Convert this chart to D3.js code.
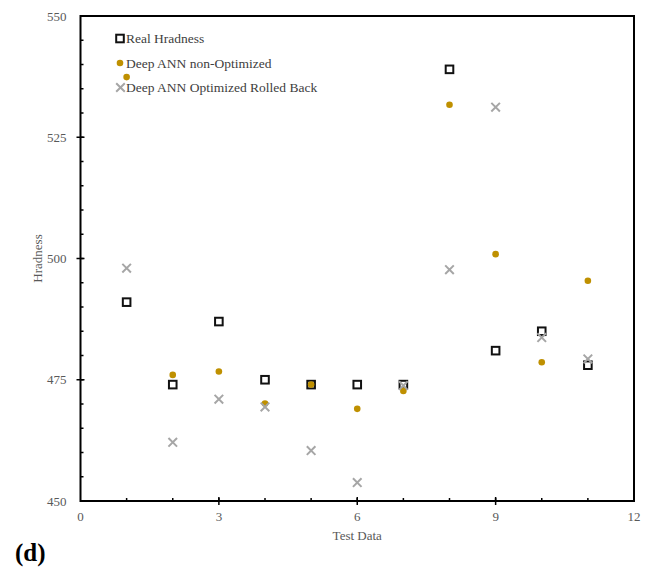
<!DOCTYPE html>
<html>
<head>
<meta charset="utf-8">
<script src="https://cdn.jsdelivr.net/npm/d3@7"></script>
<style>
  html, body { margin: 0; padding: 0; background: #fff; }
  svg { display: block; }
</style>
</head>
<body>
<svg id="chart" width="645" height="569"></svg>
<script>
// Test samples (x positions)
const testIndex = [1, 2, 3, 4, 5, 6, 7, 8, 9, 10, 11];
// Measured hardness
const realHardness = [491, 474, 487, 475, 474, 474, 474, 539, 481, 485, 478];
// Deep ANN predictions, non-optimized
const annNonOptimized = [537.4, 476.0, 476.7, 470.1, 474.0, 469.0, 472.7, 531.7, 500.9, 478.6, 495.4];
// Deep ANN predictions, optimized and rolled back
const annOptimized = [498.0, 462.1, 471.0, 469.4, 460.4, 453.8, 473.8, 497.7, 531.2, 483.7, 479.3];

const xTicks = [0, 3, 6, 9, 12];
const yTicks = [450, 475, 500, 525, 550];
const legendLabels = ["Real Hradness", "Deep ANN non-Optimized", "Deep ANN Optimized Rolled Back"];

const svg = d3.select("#chart");
const plot = { left: 80.5, right: 634, top: 16, bottom: 501 };

const x = d3.scaleLinear().domain([0, 12]).range([plot.left, plot.right]);
const y = d3.scaleLinear().domain([450, 550]).range([plot.bottom, plot.top]);

const font = "'Liberation Serif', 'Times New Roman', serif";
const gold = "#BF9000";
const grey = "#A6A6A6";
const labelColor = "#595959";

// Minor ticks (inside the frame)
const xMinor = d3.range(1, 12);
svg.append("g").selectAll("line").data(xMinor).join("line")
  .attr("x1", d => x(d)).attr("x2", d => x(d))
  .attr("y1", plot.bottom).attr("y2", plot.bottom - 3)
  .attr("stroke", "#000").attr("stroke-width", 1.5);
const yMinor = d3.range(455, 550, 5);
svg.append("g").selectAll("line").data(yMinor).join("line")
  .attr("y1", d => y(d)).attr("y2", d => y(d))
  .attr("x1", plot.left).attr("x2", plot.left + 3)
  .attr("stroke", "#000").attr("stroke-width", 1.5);

// Major ticks crossing the axes
svg.append("g").selectAll("line").data(xTicks.slice(1, -1)).join("line")
  .attr("x1", d => x(d)).attr("x2", d => x(d))
  .attr("y1", plot.bottom - 4).attr("y2", plot.bottom + 4)
  .attr("stroke", "#000").attr("stroke-width", 1.5);
svg.append("g").selectAll("line").data(yTicks.slice(1, -1)).join("line")
  .attr("y1", d => y(d)).attr("y2", d => y(d))
  .attr("x1", plot.left - 4).attr("x2", plot.left + 4)
  .attr("stroke", "#000").attr("stroke-width", 1.5);

// Frame
svg.append("rect")
  .attr("x", plot.left).attr("y", plot.top)
  .attr("width", plot.right - plot.left).attr("height", plot.bottom - plot.top)
  .attr("fill", "none").attr("stroke", "#000").attr("stroke-width", 2);

// Tick labels
svg.append("g").selectAll("text").data(xTicks).join("text")
  .attr("x", d => x(d)).attr("y", plot.bottom + 20)
  .attr("text-anchor", "middle")
  .attr("font-family", font).attr("font-size", 13).attr("fill", labelColor)
  .text(d => d);
svg.append("g").selectAll("text").data(yTicks).join("text")
  .attr("x", plot.left - 14).attr("y", d => y(d) + 4.5)
  .attr("text-anchor", "end")
  .attr("font-family", font).attr("font-size", 13).attr("fill", labelColor)
  .text(d => d);

// Axis titles
svg.append("text")
  .attr("x", (plot.left + plot.right) / 2).attr("y", 540)
  .attr("text-anchor", "middle")
  .attr("font-family", font).attr("font-size", 13).attr("fill", labelColor)
  .text("Test Data");
svg.append("text")
  .attr("transform", `translate(42,${(plot.top + plot.bottom) / 2}) rotate(-90)`)
  .attr("text-anchor", "middle")
  .attr("font-family", font).attr("font-size", 13).attr("fill", labelColor)
  .text("Hradness");

// Panel label
svg.append("text")
  .attr("x", 15).attr("y", 561)
  .attr("font-family", font).attr("font-size", 25).attr("font-weight", "bold")
  .attr("fill", "#000")
  .text("(d)");

// Marker helpers
function drawSquare(g, cx, cy) {
  g.append("rect").attr("x", cx - 3.8).attr("y", cy - 3.8)
    .attr("width", 7.6).attr("height", 7.6)
    .attr("fill", "#fff").attr("stroke", "#111").attr("stroke-width", 2);
}
function drawDot(g, cx, cy) {
  g.append("circle").attr("cx", cx).attr("cy", cy).attr("r", 3.3).attr("fill", gold);
}
function drawCross(g, cx, cy) {
  const s = 4.3;
  g.append("path")
    .attr("d", `M${cx - s},${cy - s}L${cx + s},${cy + s}M${cx - s},${cy + s}L${cx + s},${cy - s}`)
    .attr("stroke", grey).attr("stroke-width", 2).attr("fill", "none");
}

// Series
const gReal = svg.append("g");
testIndex.forEach((t, i) => drawSquare(gReal, x(t), y(realHardness[i])));
const gNon = svg.append("g");
testIndex.forEach((t, i) => drawDot(gNon, x(t), y(annNonOptimized[i])));
const gOpt = svg.append("g");
testIndex.forEach((t, i) => drawCross(gOpt, x(t), y(annOptimized[i])));

// Legend
const legend = svg.append("g");
const legendY = [38.5, 63, 87.5];
drawSquare(legend, 120, legendY[0]);
drawDot(legend, 120, legendY[1]);
drawCross(legend, 120.5, legendY[2]);
legend.selectAll("text").data(legendLabels).join("text")
  .attr("x", 126).attr("y", (d, i) => legendY[i] + 4.5)
  .attr("font-family", font).attr("font-size", 13.5).attr("fill", "#404040")
  .text(d => d);
</script>
</body>
</html>
